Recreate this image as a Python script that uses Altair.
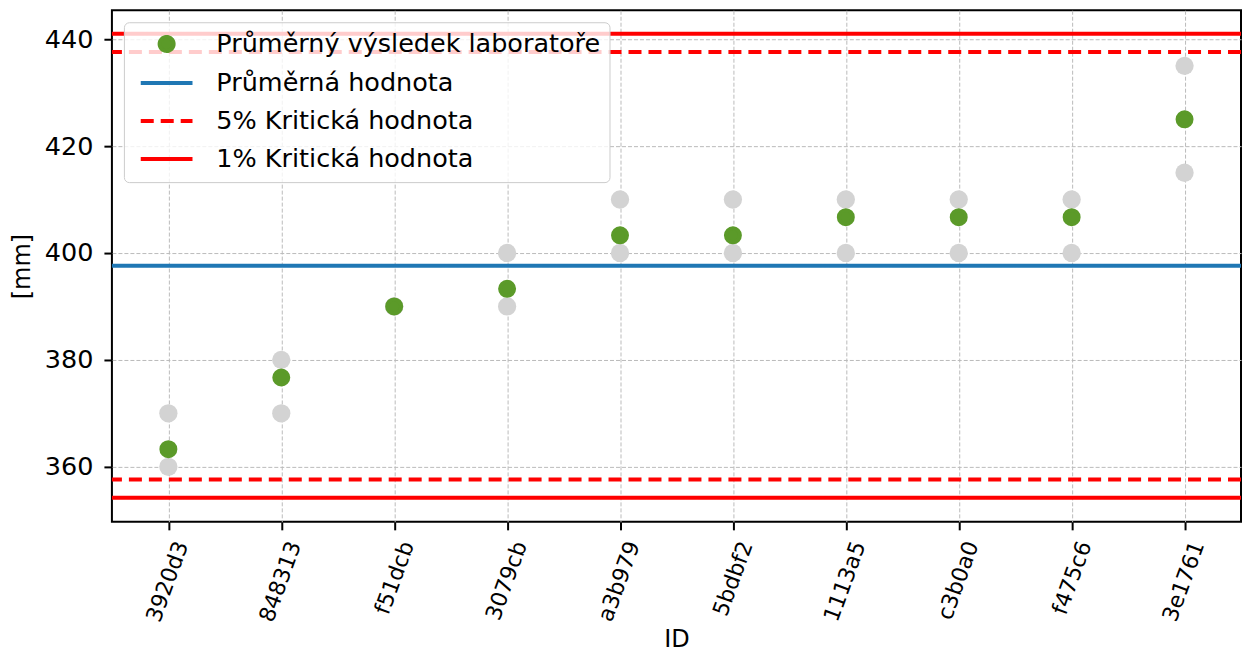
import altair as alt
import pandas as pd

ids = ["3920d3", "848313", "f51dcb", "3079cb", "a3b979", "5bdbf2", "1113a5", "c3b0a0", "f475c6", "3e1761"]
result_low = [360, 370, 390, 390, 400, 400, 400, 400, 400, 415]
result_high = [370, 380, 390, 400, 410, 410, 410, 410, 410, 435]
lab_mean = [363.3, 376.7, 390.0, 393.3, 403.3, 403.3, 406.7, 406.7, 406.7, 425.0]

mean_value = 397.6
crit5 = [357.6, 437.6]
crit1 = [354.2, 441.0]

S_LAB = "Průměrný výsledek laboratoře"
S_MEAN = "Průměrná hodnota"
S_C5 = "5% Kritická hodnota"
S_C1 = "1% Kritická hodnota"
series_order = [S_LAB, S_MEAN, S_C5, S_C1]

GREEN = "#5b9a29"
BLUE = "#1f77b4"
RED = "#ff0000"
colors = [GREEN, BLUE, RED, RED]
dashes = [[1, 0], [1, 0], [13, 7], [1, 0]]
LINE_PATH = "M-3.7,0H3.7"
shapes = ["circle", LINE_PATH, LINE_PATH, LINE_PATH]

FONT = "DejaVu Sans"
FS = 25.5

raw = pd.DataFrame({"id": ids * 2, "value": result_low + result_high})
means = pd.DataFrame({"id": ids, "value": lab_mean, "series": S_LAB})
lines = pd.DataFrame({
    "value": [mean_value] + crit5 + crit1,
    "series": [S_MEAN, S_C5, S_C5, S_C1, S_C1],
})

yscale = alt.Scale(domain=[349.7, 445.4], nice=False, zero=False)
xenc = alt.X("id:N", sort=ids, scale=alt.Scale(domain=ids),
             axis=alt.Axis(title="ID", labelAngle=290, labelAlign="right",
                           labelBaseline="middle", labelOffset=13, labelPadding=12,
                           labelFontSize=22, titlePadding=3))
yaxis = alt.Axis(title="[mm]", values=[360, 380, 400, 420, 440], labelPadding=11,
                 titlePadding=10)

legend = alt.Legend(
    title=None, orient="top-left", offset=12,
    labelFont=FONT, labelFontSize=FS, labelColor="black", labelLimit=0,
    symbolSize=196, symbolOffset=21, labelOffset=37, symbolStrokeWidth=4,
    padding=9, rowPadding=11,
    fillColor="rgba(255,255,255,0.8)", strokeColor="#cccccc", cornerRadius=5,
)

color_scale = alt.Scale(domain=series_order, range=colors)

gray = alt.Chart(raw).mark_circle(size=335, opacity=1, color="#d3d3d3").encode(
    x=xenc,
    y=alt.Y("value:Q", scale=yscale, axis=yaxis),
)

green = alt.Chart(means).mark_point(filled=True, size=196, opacity=1, strokeWidth=4).encode(
    x=xenc,
    y=alt.Y("value:Q", scale=yscale, axis=yaxis),
    color=alt.Color("series:N", scale=color_scale, legend=legend),
    stroke=alt.Stroke("series:N", scale=alt.Scale(domain=series_order, range=colors), legend=legend),
    shape=alt.Shape("series:N", scale=alt.Scale(domain=series_order, range=shapes), legend=legend),
)

rules = alt.Chart(lines).mark_rule(strokeWidth=4).encode(
    y=alt.Y("value:Q", scale=yscale, axis=yaxis),
    color=alt.Color("series:N", scale=color_scale, legend=legend),
    strokeDash=alt.StrokeDash("series:N", scale=alt.Scale(domain=series_order, range=dashes),
                              legend=legend),
)

chart = alt.layer(gray, rules, green).properties(
    width=1130, height=512,
    padding={"left": 2, "top": 2, "right": 2, "bottom": 0},
).configure_view(
    stroke="black", strokeWidth=2,
).configure_axis(
    labelFont=FONT, labelFontSize=FS, labelColor="black",
    titleFont=FONT, titleFontSize=24, titleFontWeight="normal", titleColor="black",
    domain=False, tickSize=8, tickWidth=2, tickColor="black",
    grid=True, gridColor="#bbbbbb", gridDash=[4, 2], gridWidth=1,
)

chart.save("out.html", embed_options={"renderer": "svg", "actions": False})
